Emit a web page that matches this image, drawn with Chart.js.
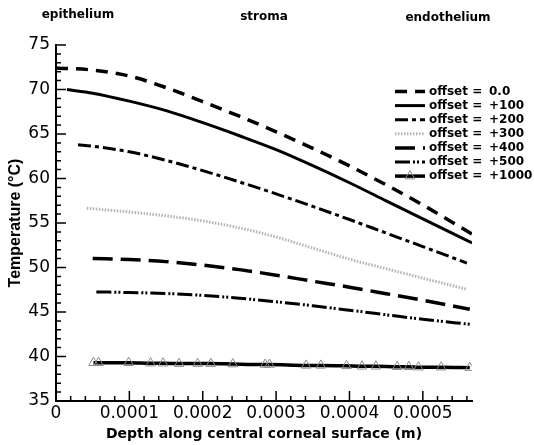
<!DOCTYPE html>
<html>
<head>
<meta charset="utf-8">
<script src="https://cdn.jsdelivr.net/npm/chart.js@4.4.0/dist/chart.umd.min.js"></script>
<style>
  html, body { margin: 0; padding: 0; background: #fff; }
</style>
</head>
<body>
<canvas id="chart" width="534" height="445"></canvas>
<script>
// Data (depth in m, temperature in deg C)
const offsetLabels = ['0.0', '+100', '+200', '+300', '+400', '+500', '+1000'];
const regionLabels = ['epithelium', 'stroma', 'endothelium'];
const xTicks = [0, 0.0001, 0.0002, 0.0003, 0.0004, 0.0005];
const yTicks = [35, 40, 45, 50, 55, 60, 65, 70, 75];

const depth0 = [0, 0.00005, 0.0001, 0.00015, 0.0002, 0.00025, 0.0003, 0.00035, 0.0004, 0.00045, 0.0005, 0.000567];
const temp0  = [72.43, 72.18, 71.51, 70.21, 68.63, 67.0, 65.25, 63.39, 61.42, 59.28, 57.03, 53.76];

const depth1 = [0.000015, 0.00005, 0.0001, 0.00015, 0.0002, 0.00025, 0.0003, 0.00035, 0.0004, 0.00045, 0.0005, 0.000567];
const temp1  = [69.99, 69.59, 68.69, 67.62, 66.27, 64.8, 63.24, 61.44, 59.52, 57.49, 55.46, 52.76];

const depth2 = [0.00003, 0.00005, 0.0001, 0.00015, 0.0002, 0.00025, 0.0003, 0.00035, 0.0004, 0.00045, 0.0005, 0.00056];
const temp2  = [63.79, 63.62, 63.0, 62.04, 60.89, 59.61, 58.27, 56.86, 55.39, 53.87, 52.35, 50.5];

const depth3 = [0.000042, 0.0001, 0.00015, 0.0002, 0.00025, 0.0003, 0.00035, 0.0004, 0.00045, 0.0005, 0.00056];
const temp3  = [56.66, 56.24, 55.8, 55.24, 54.45, 53.42, 52.18, 50.94, 49.87, 48.8, 47.56];

const depth4 = [0.00005, 0.0001, 0.00015, 0.0002, 0.00025, 0.0003, 0.00035, 0.0004, 0.00045, 0.0005, 0.000564];
const temp4  = [51.02, 50.89, 50.66, 50.27, 49.76, 49.14, 48.46, 47.79, 47.06, 46.32, 45.31];

const depth5 = [0.000055, 0.0001, 0.00015, 0.0002, 0.00025, 0.0003, 0.00035, 0.0004, 0.00045, 0.0005, 0.000564];
const temp5  = [47.26, 47.19, 47.08, 46.86, 46.55, 46.15, 45.7, 45.2, 44.69, 44.18, 43.62];

const depth6 = [0.000051, 0.000058, 0.000099, 0.000129, 0.000146, 0.000168, 0.000193, 0.000211,
                0.000241, 0.000285, 0.000291, 0.000341, 0.000361, 0.000396, 0.000417, 0.000436,
                0.000465, 0.000481, 0.000494, 0.000525, 0.000564];
const temp6  = [39.3, 39.3, 39.3, 39.25, 39.25, 39.2, 39.2, 39.2, 39.15, 39.1, 39.1, 39.0, 39.0,
                38.95, 38.9, 38.9, 38.85, 38.85, 38.8, 38.8, 38.75];

const toPoints = (xs, ys) => xs.map((x, i) => ({ x: x, y: ys[i] }));

// line styles per offset (dash patterns approximate the Tecplot ones)
const styles = [
  { color: '#000', width: 3.5, dash: [12, 8] },
  { color: '#000', width: 3, dash: [] },
  { color: '#000', width: 3, dash: [13, 4, 4, 4] },
  { color: '#b4b4b4', width: 3, dash: [1.5, 1.5] },
  { color: '#000', width: 3.5, dash: [20, 8] },
  { color: '#000', width: 3, dash: [15, 3, 2, 2, 2, 3] },
  { color: '#000', width: 3.5, dash: [] }
];

const series = [
  toPoints(depth0, temp0), toPoints(depth1, temp1), toPoints(depth2, temp2),
  toPoints(depth3, temp3), toPoints(depth4, temp4), toPoints(depth5, temp5),
  toPoints(depth6, temp6)
];

const datasets = series.map((pts, i) => ({
  label: 'offset = ' + offsetLabels[i],
  data: pts,
  borderColor: styles[i].color,
  borderWidth: styles[i].width,
  borderDash: styles[i].dash,
  cubicInterpolationMode: 'monotone',
  fill: false,
  pointRadius: i === 6 ? 5.5 : 0,
  pointStyle: 'triangle',
  pointBorderColor: '#8c8c8c',
  pointBorderWidth: 1,
  pointBackgroundColor: 'rgba(255,255,255,0)'
}));

const FONT = 'DejaVu Sans';

// inward ticks, region labels and the in-plot legend
const decor = {
  id: 'decor',
  afterDraw(chart) {
    const ctx = chart.ctx;
    const xs = chart.scales.x, ys = chart.scales.y;
    const area = chart.chartArea;
    ctx.save();
    ctx.strokeStyle = '#000';
    ctx.lineWidth = 1.5;
    ctx.setLineDash([]);
    ctx.beginPath();
    for (let k = 0; k <= 28; k++) {
      const v = k * 0.00002;
      const px = xs.getPixelForValue(v);
      const len = k % 5 === 0 ? 10 : 5;
      ctx.moveTo(px, area.bottom);
      ctx.lineTo(px, area.bottom - len);
    }
    for (let v = 35; v <= 75; v++) {
      const py = ys.getPixelForValue(v);
      const len = v % 5 === 0 ? 10 : 5;
      ctx.moveTo(area.left, py);
      ctx.lineTo(area.left + len, py);
    }
    ctx.stroke();

    // region labels above the plot
    ctx.fillStyle = '#000';
    ctx.font = 'bold 12px "' + FONT + '"';
    ctx.textAlign = 'center';
    ctx.textBaseline = 'middle';
    ctx.fillText(regionLabels[0], 78, 15);
    ctx.fillText(regionLabels[1], 264, 17);
    ctx.fillText(regionLabels[2], 448, 18);

    // legend
    const lx0 = 395, lx1 = 425, ty0 = 91.5, step = 14.1;
    chart.data.datasets.forEach((ds, i) => {
      const y = ty0 + i * step;
      ctx.strokeStyle = ds.borderColor;
      ctx.lineWidth = ds.borderWidth;
      ctx.setLineDash(ds.borderDash);
      ctx.beginPath();
      ctx.moveTo(lx0, y);
      ctx.lineTo(lx1, y);
      ctx.stroke();
      ctx.setLineDash([]);
      if (ds.pointRadius > 0) {
        const r = ds.pointRadius;
        const cx = (lx0 + lx1) / 2;
        ctx.strokeStyle = ds.pointBorderColor;
        ctx.lineWidth = 1;
        ctx.beginPath();
        ctx.moveTo(cx, y - r);
        ctx.lineTo(cx + r * Math.sin(Math.PI / 3), y + r / 2);
        ctx.lineTo(cx - r * Math.sin(Math.PI / 3), y + r / 2);
        ctx.closePath();
        ctx.stroke();
      }
      ctx.fillStyle = '#000';
      ctx.font = 'bold 12px "' + FONT + '"';
      ctx.textAlign = 'left';
      ctx.fillText('offset =', 429, y);
      ctx.fillText(offsetLabels[i], 489, y);
    });
    ctx.restore();
  }
};

new Chart(document.getElementById('chart'), {
  type: 'line',
  data: { datasets: datasets },
  options: {
    responsive: false,
    animation: false,
    layout: { padding: { top: 45, right: 62, left: 0, bottom: 0 } },
    plugins: { legend: { display: false }, tooltip: { enabled: false } },
    scales: {
      x: {
        type: 'linear',
        min: 0,
        max: 0.000567,
        afterFit: s => { s.height = 44; },
        afterBuildTicks: s => { s.ticks = xTicks.map(v => ({ value: v })); },
        border: { display: true, color: '#000', width: 2 },
        grid: { drawOnChartArea: false, drawTicks: false },
        ticks: {
          autoSkip: false, maxRotation: 0, padding: 2, color: '#000',
          font: { family: FONT, size: 17 },
          callback: v => v === 0 ? '0' : v.toFixed(4)
        },
        title: {
          display: true, text: 'Depth along central corneal surface (m)', color: '#000',
          font: { family: FONT, size: 14, weight: 'bold' },
          padding: { top: 0, bottom: 2 }
        }
      },
      y: {
        type: 'linear',
        min: 35,
        max: 75,
        afterFit: s => { s.width = 56; },
        afterBuildTicks: s => { s.ticks = yTicks.map(v => ({ value: v })); },
        border: { display: true, color: '#000', width: 2 },
        grid: { drawOnChartArea: false, drawTicks: false },
        ticks: {
          autoSkip: false, padding: 6, color: '#000',
          font: { family: FONT, size: 17 }
        },
        title: {
          display: true, text: 'Temperature (°C)', color: '#000',
          font: { family: 'Liberation Sans', size: 16, weight: 'bold' },
          padding: { top: 6, bottom: 0 }
        }
      }
    }
  },
  plugins: [decor]
});
</script>
</body>
</html>
